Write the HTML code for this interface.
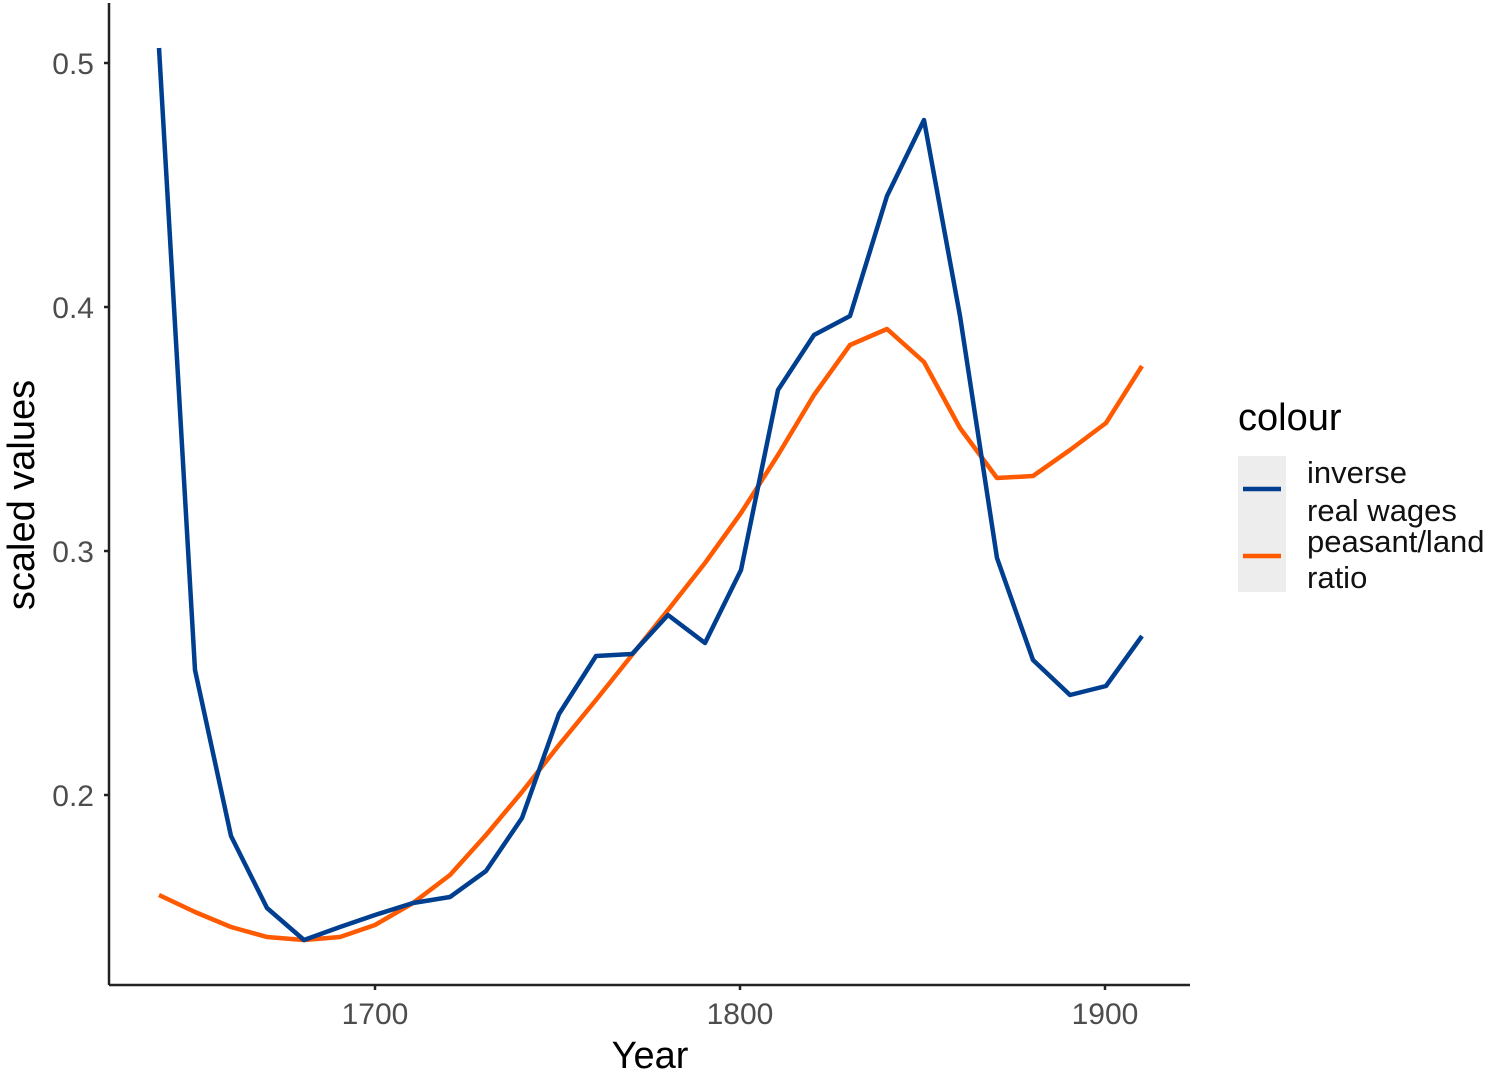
<!DOCTYPE html>
<html><head><meta charset="utf-8"><style>body{margin:0;background:#fff}</style></head><body>
<svg width="1500" height="1073" xmlns="http://www.w3.org/2000/svg" font-family="Liberation Sans, sans-serif">
<rect width="1500" height="1073" fill="#fff"/>
<g stroke="#222" stroke-width="2.5" fill="none">
<line x1="109" y1="3" x2="109" y2="985"/>
<line x1="109" y1="985" x2="1190" y2="985"/>
<line x1="104" y1="63" x2="109" y2="63"/><line x1="104" y1="307" x2="109" y2="307"/>
<line x1="104" y1="551" x2="109" y2="551"/><line x1="104" y1="795" x2="109" y2="795"/>
<line x1="375" y1="985" x2="375" y2="990"/><line x1="740" y1="985" x2="740" y2="990"/><line x1="1105" y1="985" x2="1105" y2="990"/>
</g>
<g fill="#4d4d4d" font-size="30" text-anchor="end">
<text x="94" y="74">0.5</text><text x="94" y="318">0.4</text><text x="94" y="562">0.3</text><text x="94" y="806">0.2</text>
</g>
<g fill="#4d4d4d" font-size="30" text-anchor="middle">
<text x="375" y="1024">1700</text><text x="740" y="1024">1800</text><text x="1105" y="1024">1900</text>
</g>
<text x="650" y="1068" font-size="38" text-anchor="middle" fill="#000">Year</text>
<text transform="translate(34,495) rotate(-90)" font-size="38" text-anchor="middle" fill="#000">scaled  values</text>
<polyline fill="none" stroke="#ff5a00" stroke-width="4.5" stroke-linejoin="round" points="159,895 195,912 231,927 267,937 304,940 340,937 375,925 413,903 450,875 486,835 522,792 559,745 596,700 632,655 668,610 705,563 741,513 778,455 814,395 850,345 887,329 924,362 960,428 997,478 1033,476 1070,450 1106,423 1142,366"/>
<polyline fill="none" stroke="#003f8f" stroke-width="4.5" stroke-linejoin="round" points="159,48 195,670 231,836 267,908 304,940 340,927 375,915 413,903 450,897 486,871 522,818 559,714 596,656 632,654 668,615 705,643 741,570 778,390 814,335 850,316 887,196 924,120 960,316 997,558 1033,660 1070,695 1106,686 1142,636"/>
<text x="1238" y="430" font-size="38" fill="#000">colour</text>
<rect x="1238" y="456" width="48" height="136" fill="#ededed"/>
<line x1="1243" y1="489" x2="1281" y2="489" stroke="#003f8f" stroke-width="4.5"/>
<line x1="1243" y1="556" x2="1281" y2="556" stroke="#ff5a00" stroke-width="4.5"/>
<g font-size="31" fill="#111">
<text x="1307" y="483">inverse</text><text x="1307" y="521">real wages</text>
<text x="1307" y="552">peasant/land</text><text x="1307" y="588">ratio</text>
</g>
</svg>
</body></html>
